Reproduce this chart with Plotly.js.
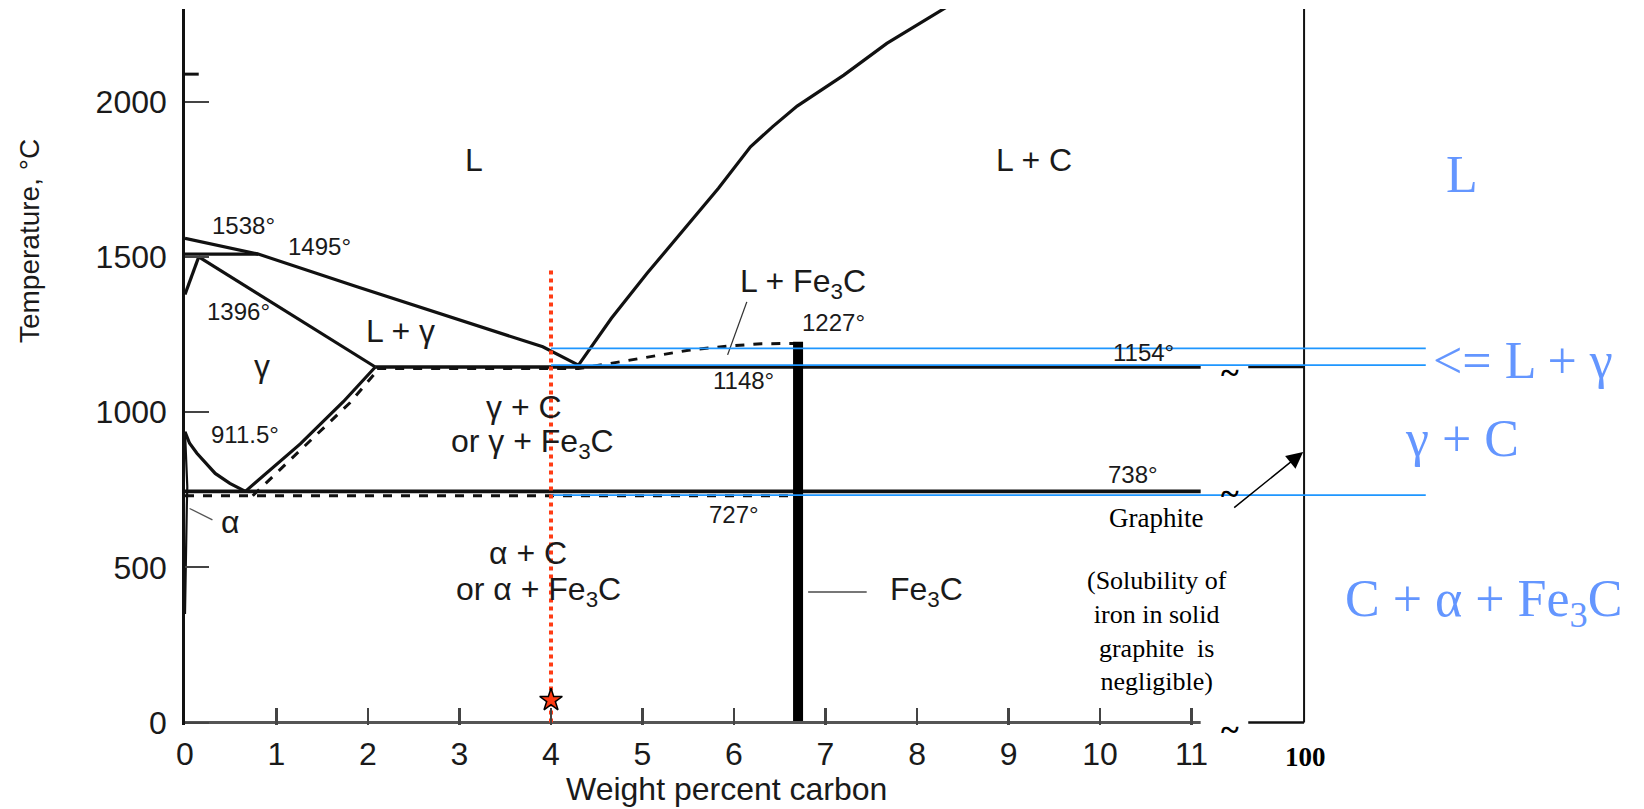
<!DOCTYPE html>
<html><head><meta charset="utf-8">
<script src="https://cdn.plot.ly/plotly-3.0.1.min.js"></script>
<style>html,body{margin:0;padding:0;background:#fff}#chart{width:1644px;height:809px}</style>
</head><body><div id="chart"></div>
<script>
// ---------- axis ticks ----------
const xTickVals = [0,1,2,3,4,5,6,7,8,9,10,11];
const xTickText = ['0','1','2','3','4','5','6','7','8','9','10','11'];
const yTickVals = [0,500,1000,1500,2000];
const yTickText = ['0','500','1000','1500','2000'];

// ---------- phase boundaries (wt% C, °C) ----------
const liquidusFeX = [0,0.8,1.88,3.05,3.91,4.3];
const liquidusFeT = [1561,1510,1405,1292,1211,1152];
const liquidusCX = [4.3,4.66,5.05,5.44,5.83,6.18,6.42,6.69,7.2,7.67,8.27,8.4];
const liquidusCT = [1152,1303,1448,1587,1722,1856,1920,1987,2087,2189,2299,2320];
const peritecticX = [0,0.8];
const peritecticT = [1510,1510];
const solidusX = [0.15,2.08];
const solidusT = [1501,1146];
const deltaX = [0.15,0.03,0];
const deltaT = [1501,1405,1380];
const a3X = [0,0.05,0.13,0.23,0.33,0.49,0.66];
const a3T = [937,900,868,835,803,771,745];
const alphaX = [0,0.025,0.02,0];
const alphaT = [937,760,700,350];
const acmX = [0.66,1.26,1.73,2.08];
const acmT = [745,898,1034,1146];
const acmMetaX = [0.74,1.32,1.8,2.12];
const acmMetaT = [731,895,1030,1141];
const eutecticX = [2.08,11.1];
const eutecticT = [1146,1146];
const eutecticMetaX = [2.1,4.3,4.6,5.05,5.5,5.95,6.3,6.7];
const eutecticMetaT = [1141,1141,1155,1178,1200,1214,1221,1222];
const eutectoidX = [0,11.1];
const eutectoidT = [745,745];
const eutectoidMetaX = [0,6.7];
const eutectoidMetaT = [731,731];
const fe3cX = [6.7,6.7];
const fe3cT = [0,1227];
const baseX = [0,11.1];
const baseT = [0,0];
const brokenEutX = [11.62,12.23];
const brokenEutT = [1146,1146];
const brokenBaseX = [11.62,12.23];
const brokenBaseT = [0,0];
const graphiteAxisX = [12.23,12.23];
const graphiteAxisT = [0,2300];
const stubX = [0,0.15];
const stubT = [2090,2090];

// leader lines
const alphaLeaderX = [0.05,0.3],  alphaLeaderT = [690,653];
const lfe3cLeaderX = [6.14,5.93], lfe3cLeaderT = [1356,1185];
const fe3cLeaderX = [6.81,7.45],  fe3cLeaderT = [421,421];

// highlighted alloy and blue reference lines
const alloyX = [4,4];
const alloyT = [0,1460];
const starX = [4];
const starT = [72];
const blueLineX = [4,13.56];
const blueLineT = [1206,1152,733];

// ---------- labels ----------
const phaseLabels = ['L','L + C','L + γ','γ','γ + C','or γ + Fe<sub>3</sub>C','α + C','or α + Fe<sub>3</sub>C','α','L + Fe<sub>3</sub>C','Fe<sub>3</sub>C'];
const phaseX = [3.16,9.28,2.36,0.84,3.7,3.8,3.75,3.86,0.50,6.75,8.1];
const phaseT = [1812,1812,1262,1150,1018,901,546,421,647,1416,421];
const tempLabels = ['1538°','1495°','1396°','911.5°','727°','1227°','1148°','1154°','738°'];
const tempX = [0.64,1.47,0.59,0.66,6.0,7.09,6.1,10.47,10.36];
const tempT = [1601,1533,1324,927,669,1289,1101,1193,798];
const regionLabels = ['L','&lt;= L + γ','γ + C','C + α + Fe<sub>3</sub>C'];
const regionX = [13.96,13.62,13.96,14.19];
const regionT = [1765,1168,917,387];
const regionAnchor = ['center','left','center','center'];
const tildeX = [11.42,11.42,11.42];
const tildeT = [1128,738,0];
const noteText = '(Solubility of<br>iron in solid<br>graphite  is<br>negligible)';
const noteX = 10.62, noteT = 296;
const graphiteText = 'Graphite';
const graphiteX = 10.61, graphiteT = 659;
const arrowTail = [11.45,689];
const arrowHead = [12.22,872];
const farTickText = '100';
const farTickX = 12.25;
const xTitle = 'Weight percent carbon';
const yTitle = 'Temperature, °C';

const BLK = '#111';
function line(x, y, opts) {
  return Object.assign({type:'scatter', mode:'lines', x:x, y:y, hoverinfo:'skip', showlegend:false,
    line:{color:BLK, width:3.2}}, opts || {});
}
const traces = [
  line(liquidusFeX, liquidusFeT),
  line(liquidusCX, liquidusCT),
  line(peritecticX, peritecticT),
  line(solidusX, solidusT),
  line(deltaX, deltaT),
  line(a3X, a3T),
  line(alphaX, alphaT, {line:{color:BLK, width:2.2}}),
  line(acmX, acmT),
  line(acmMetaX, acmMetaT, {line:{color:BLK, width:3, dash:'dash'}}),
  line(eutecticX, eutecticT, {line:{color:BLK, width:3.4}}),
  line(eutecticMetaX, eutecticMetaT, {line:{color:BLK, width:3, dash:'dash'}}),
  line(eutectoidX, eutectoidT, {line:{color:BLK, width:3.6}}),
  line(eutectoidMetaX, eutectoidMetaT, {line:{color:BLK, width:3, dash:'dash'}}),
  line(fe3cX, fe3cT, {line:{color:'#000', width:10}}),
  line(baseX, baseT, {line:{color:'#555', width:3}}),
  line(brokenEutX, brokenEutT, {line:{color:BLK, width:2.5}}),
  line(brokenBaseX, brokenBaseT, {line:{color:BLK, width:2.5}}),
  line(graphiteAxisX, graphiteAxisT, {line:{color:BLK, width:2}}),
  line(stubX, stubT, {line:{color:BLK, width:3}}),
  line(alphaLeaderX, alphaLeaderT, {line:{color:'#555', width:1.3}}),
  line(lfe3cLeaderX, lfe3cLeaderT, {line:{color:'#333', width:1.3}}),
  line(fe3cLeaderX, fe3cLeaderT, {line:{color:'#777', width:2}})
];
blueLineT.forEach(t => traces.push(line(blueLineX, [t,t], {line:{color:'#1E96FF', width:1.8}})));
traces.push(line(alloyX, alloyT, {line:{color:'#FF3C14', width:4, dash:'dot'}}));
traces.push({type:'scatter', mode:'markers', x:starX, y:starT, hoverinfo:'skip', showlegend:false,
  marker:{symbol:'star', size:17, color:'#FF3C14', line:{color:'#000', width:1.5}}});

const SANS = 'Liberation Sans, Arial, sans-serif';
const SERIF = 'Liberation Serif, Times New Roman, serif';
const ann = [];
function txt(o) { return Object.assign({showarrow:false, xanchor:'center', yanchor:'middle'}, o); }
phaseLabels.forEach((t,i) => ann.push(txt({x:phaseX[i], y:phaseT[i], xref:'x', yref:'y', text:t,
  font:{family:SANS, size:32, color:'#1a1a1a'}})));
tempLabels.forEach((t,i) => ann.push(txt({x:tempX[i], y:tempT[i], xref:'x', yref:'y', text:t,
  font:{family:SANS, size:24, color:'#1a1a1a'}})));
regionLabels.forEach((t,i) => ann.push(txt({x:regionX[i], y:regionT[i], xref:'x', yref:'y', text:t,
  xanchor:regionAnchor[i], font:{family:SERIF, size:52, color:'#6496FF'}})));
tildeX.forEach((x,i) => ann.push(txt({x:x, y:tildeT[i], xref:'x', yref:'y', text:'<b>~</b>',
  yshift: i===2 ? -7 : 0, font:{family:SERIF, size:34, color:'#000'}})));
ann.push(txt({x:noteX, y:noteT, xref:'x', yref:'y', text:noteText,
  font:{family:SERIF, size:26, color:'#000'}}));
ann.push(txt({x:graphiteX, y:graphiteT, xref:'x', yref:'y', text:graphiteText,
  font:{family:SERIF, size:27, color:'#000'}}));
ann.push({x:arrowHead[0], y:arrowHead[1], ax:arrowTail[0], ay:arrowTail[1], xref:'x', yref:'y', axref:'x', ayref:'y',
  text:'', showarrow:true, arrowhead:2, arrowsize:2.2, arrowwidth:1.5, arrowcolor:'#000'});
ann.push(txt({x:farTickX, y:-0.0447, xref:'x', yref:'paper', text:'<b>'+farTickText+'</b>',
  font:{family:SERIF, size:27, color:'#000'}}));
ann.push(txt({x:-0.1062, y:0.676, xref:'paper', yref:'paper', text:yTitle, textangle:-90,
  font:{family:SANS, size:28, color:'#1a1a1a'}}));
ann.push(txt({x:5.92, y:-0.117, xref:'x', yref:'paper', yanchor:'bottom', text:xTitle,
  font:{family:SANS, size:32, color:'#1a1a1a'}}));

const layout = {
  width:1644, height:809,
  margin:{l:185, r:0, t:9, b:84},
  paper_bgcolor:'#fff', plot_bgcolor:'#fff',
  font:{family:SANS, color:'#1a1a1a'},
  showlegend:false, hovermode:false,
  xaxis:{range:[0,15.945], tickmode:'array', tickvals:xTickVals, ticktext:xTickText,
    ticks:'inside', ticklen:17, tickwidth:2.5, tickcolor:'#444',
    showline:false, showgrid:false, zeroline:false, ticklabelstandoff:7,
    tickfont:{family:SANS, size:32, color:'#1a1a1a'}},
  yaxis:{range:[-8,2300], tickmode:'array', tickvals:yTickVals, ticktext:yTickText,
    ticks:'inside', ticklen:24, tickwidth:2, tickcolor:'#444',
    showline:true, linewidth:2.8, linecolor:'#111', showgrid:false, zeroline:false, ticklabelstandoff:9,
    tickfont:{family:SANS, size:32, color:'#1a1a1a'}},
  annotations:ann
};
Plotly.newPlot('chart', traces, layout, {displayModeBar:false, staticPlot:true});
</script></body></html>
